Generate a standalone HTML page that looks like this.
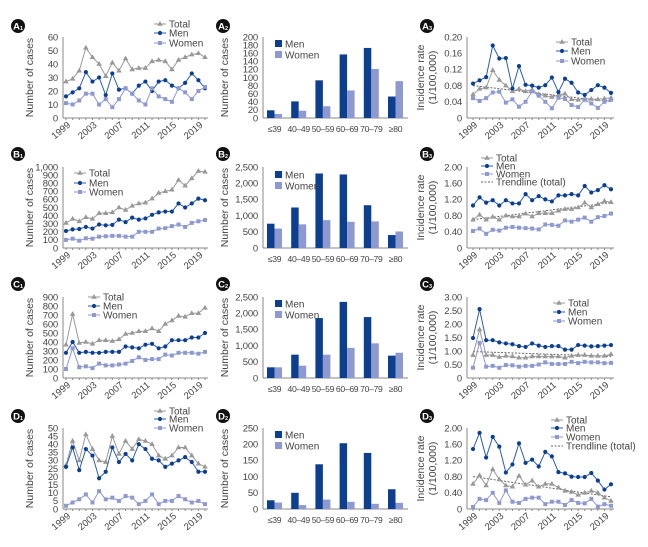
<!DOCTYPE html>
<html><head><meta charset="utf-8"><style>
body{margin:0;background:#fff;}
svg{display:block;font-family:"Liberation Sans",Arial,sans-serif;}
</style></head><body>
<svg id="fig" width="648" height="547" viewBox="0 0 648 547" xmlns="http://www.w3.org/2000/svg"></svg>
<script>
const years=[1999,2000,2001,2002,2003,2004,2005,2006,2007,2008,2009,2010,2011,2012,2013,2014,2015,2016,2017,2018,2019,2020];
const yearTicks=[1999,2003,2007,2011,2015,2019];
const ageGroups=["≤39","40–49","50–59","60–69","70–79","≥80"];
// A
const a1Total=[27,29,35,52,45,40,31,41,35,44,36,37,37,42,43,42,36,43,45,47,48,45];
const a1Men=[16,19,22,34,27,30,17,33,21,22,18,24,27,20,27,28,24,22,26,33,28,22];
const a1Women=[11,10,13,18,18,10,14,8,14,22,18,13,10,22,16,14,12,22,19,14,20,23];
const a2Men=[19,41,93,157,173,53];
const a2Women=[10,18,29,68,121,91];
const a3Total=[0.058,0.072,0.075,0.118,0.094,0.080,0.066,0.072,0.066,0.070,0.059,0.055,0.052,0.057,0.060,0.046,0.045,0.048,0.047,0.046,0.048,0.050];
const a3Men=[0.085,0.093,0.101,0.179,0.147,0.148,0.073,0.128,0.082,0.080,0.075,0.081,0.100,0.064,0.097,0.087,0.063,0.057,0.069,0.081,0.075,0.062];
const a3Women=[0.049,0.042,0.049,0.063,0.065,0.038,0.046,0.028,0.040,0.066,0.055,0.040,0.024,0.050,0.047,0.032,0.027,0.045,0.036,0.025,0.040,0.045];
const a3Trend=[0.080,0.040];
// B
const b1Total=[310,360,330,380,360,430,430,440,500,470,520,550,560,610,680,700,720,840,770,860,950,940];
const b1Men=[210,230,235,260,240,290,280,285,350,320,375,350,365,410,440,450,450,550,500,550,610,590];
const b1Women=[100,115,90,120,115,140,145,150,150,140,140,200,200,200,240,245,270,290,260,310,330,345];
const b2Men=[750,1250,2300,2270,1320,400];
const b2Women=[600,730,860,810,820,510];
const b3Total=[0.70,0.82,0.70,0.77,0.70,0.80,0.78,0.78,0.85,0.78,0.86,0.86,0.86,0.92,0.96,0.96,1.00,1.12,1.00,1.08,1.16,1.13];
const b3Men=[1.05,1.25,1.12,1.18,1.05,1.18,1.10,1.10,1.33,1.18,1.28,1.20,1.15,1.30,1.30,1.33,1.30,1.53,1.37,1.43,1.55,1.45];
const b3Women=[0.42,0.48,0.35,0.45,0.43,0.50,0.52,0.50,0.49,0.48,0.46,0.58,0.57,0.55,0.68,0.65,0.70,0.75,0.65,0.76,0.79,0.85];
const b3Trend=[0.70,1.12];
// C
const c1Total=[370,710,390,400,380,420,420,410,430,490,500,520,520,550,520,600,640,690,680,720,720,780];
const c1Men=[280,400,280,290,280,280,290,290,290,350,340,330,370,380,330,350,420,420,420,450,450,500];
const c1Women=[100,330,120,130,110,160,140,140,150,160,190,230,200,210,210,260,250,280,280,280,270,290];
const c2Men=[330,720,1850,2350,1880,690];
const c2Women=[330,380,720,930,1070,780];
const c3Total=[0.85,1.80,0.85,0.85,0.78,0.82,0.80,0.75,0.75,0.80,0.80,0.80,0.80,0.80,0.75,0.82,0.85,0.85,0.82,0.82,0.82,0.88];
const c3Men=[1.48,2.55,1.40,1.40,1.32,1.28,1.25,1.18,1.15,1.28,1.20,1.15,1.18,1.18,1.05,1.05,1.22,1.20,1.17,1.18,1.20,1.22];
const c3Women=[0.38,1.30,0.42,0.45,0.38,0.48,0.47,0.42,0.45,0.45,0.50,0.58,0.52,0.52,0.52,0.60,0.55,0.60,0.58,0.58,0.55,0.56];
const c3Trend=[0.98,0.80];
// D
const d1Total=[27,42,30,46,37,30,29,45,34,42,37,43,42,40,33,31,33,38,38,33,28,26];
const d1Men=[26,38,24,37,33,19,23,38,29,34,30,40,37,31,30,26,28,30,32,29,23,23];
const d1Women=[2,4,6,9,4,11,6,7,5,8,7,3,5,9,3,5,5,8,6,4,5,3];
const d2Men=[27,50,138,203,173,61];
const d2Women=[20,12,29,22,16,19];
const d3Total=[0.62,0.83,0.58,0.98,0.73,0.58,0.55,0.82,0.60,0.70,0.55,0.62,0.62,0.53,0.45,0.42,0.35,0.40,0.45,0.40,0.28,0.20];
const d3Men=[1.48,1.88,1.27,1.78,1.54,0.90,1.10,1.62,1.14,1.22,1.05,1.41,1.30,0.91,0.88,0.80,0.79,0.79,0.89,0.70,0.48,0.61];
const d3Women=[0.05,0.25,0.22,0.40,0.15,0.46,0.18,0.15,0.25,0.28,0.28,0.12,0.18,0.18,0.10,0.22,0.15,0.14,0.25,0.06,0.12,0.08];
const d3Trend=[0.80,0.30];

const yTicksA1=[0,10,20,30,40,50,60], yTicksB1=[0,100,200,300,400,500,600,700,800,900,1000], yTicksC1=[0,100,200,300,400,500,600,700,800,900], yTicksD1=[0,5,10,15,20,25,30,35,40,45,50];
const yTicksA2=[0,20,40,60,80,100,120,140,160,180,200], yTicksB2=[0,500,1000,1500,2000,2500], yTicksC2=yTicksB2, yTicksD2=[0,50,100,150,200,250];
const yTicksA3=[0,0.04,0.08,0.12,0.16,0.20], yTicksB3=[0,0.4,0.8,1.2,1.6,2.0], yTicksC3=[0,0.5,1,1.5,2,2.5,3], yTicksD3=yTicksB3;

const NS="http://www.w3.org/2000/svg";
const svg=document.getElementById('fig');
const MEN="#0d3f91", MENL="#2a5db0", WOM="#8e99cf", TOT="#999999", AX="#8a8a8a";
const TC="#444";
function el(tag,attrs,parent){const e=document.createElementNS(NS,tag);for(const k in attrs)e.setAttribute(k,attrs[k]);(parent||svg).appendChild(e);return e;}
function txt(s,attrs,parent){const t=el('text',attrs,parent);t.textContent=s;return t;}
function fmtInt(v){return v>=1000?(Math.floor(v/1000)+","+String(v%1000).padStart(3,"0")):String(v);}
function fmtDec(v,d){return v===0?"0":v.toFixed(d);}

const tops=[37,167,297,428], H=81;
function badge(x,y,label,sub){
  const g=el('g',{});
  
  
  el('circle',{cx:x,cy:y,r:7,fill:'#111'},g);
  txt(label,{x:x-1.5,y:y+3.5,'font-size':9.5,'font-weight':'bold',fill:'#fff','text-anchor':'middle'},g);
  txt(sub,{x:x+3.5,y:y+4,'font-size':5.5,'font-weight':'bold',fill:'#fff','text-anchor':'middle'},g);
}
function yAxis(g,ax,top,ticks,fmt,title,title2,tx){
  const max=ticks[ticks.length-1];
  el('line',{x1:ax,y1:top,x2:ax,y2:top+H,stroke:AX,'stroke-width':1},g);
  ticks.forEach(t=>{const y=top+H-t/max*H;
    const lb=txt(fmt(t),{x:ax-5,y:y+3.3,'font-size':9.5,fill:TC,'text-anchor':'end','letter-spacing':-0.2},g);
    
    
  });
  const cy=top+H/2;
  const t1=txt(title,{x:tx,y:cy,'font-size':10.5,fill:TC,'text-anchor':'middle',transform:`rotate(-90 ${tx} ${cy})`},g);
  
  
  if(title2){
    const t2=txt(title2,{x:tx+12,y:cy,'font-size':10.5,fill:TC,'text-anchor':'middle',transform:`rotate(-90 ${tx+12} ${cy})`},g);
    
    
  }
}
function marker(g,kind,x,y){
  if(kind==='t') el('path',{d:`M${x},${y-3}L${x+2.8},${y+1.8}L${x-2.8},${y+1.8}Z`,fill:TOT},g);
  else if(kind==='c') el('circle',{cx:x,cy:y,r:2.1,fill:MEN},g);
  else el('rect',{x:x-2,y:y-2,width:4,height:4,fill:WOM},g);
}
function linePanel(name,ax,x0,x1,top,ticks,fmt,series,trend,title,title2,tx,legend){
  const g=el('g',{});
  
  
  const max=ticks[ticks.length-1];
  const xs=i=>x0+(x1-x0)*i/(years.length-1);
  const ys=v=>top+H-v/max*H;
  yAxis(g,ax,top,ticks,fmt,title,title2,tx);
  const bottom=top+H;
  el('line',{x1:ax,y1:bottom,x2:x1+3,y2:bottom,stroke:AX,'stroke-width':1},g);
  years.forEach((yr,i)=>{el('line',{x1:xs(i),y1:bottom,x2:xs(i),y2:bottom+2,stroke:AX},g);});
  yearTicks.forEach(yr=>{const i=years.indexOf(yr);const x=xs(i)+5,y=bottom+8;
    const t=txt(String(yr),{x:x,y:y,'font-size':9.5,fill:TC,'text-anchor':'end',transform:`rotate(-40 ${x} ${y})`},g);
    
    
  });
  if(trend){
    const tl=el('line',{x1:xs(0),y1:ys(trend[0]),x2:xs(years.length-1),y2:ys(trend[1]),stroke:'#666','stroke-width':1,'stroke-dasharray':'2,1.5'},g);
    
    
  }
  series.forEach(s=>{
    const sg=el('g',{},g);
    
    
    el('polyline',{points:s.data.map((v,i)=>xs(i)+','+ys(v)).join(' '),fill:'none',stroke:s.color,'stroke-width':1},sg);
    s.data.forEach((v,i)=>marker(sg,s.kind,xs(i),ys(v)));
  });
  const lg=el('g',{},g);
  
  
  legend.items.forEach((it,k)=>{
    const y=legend.ys[k];
    const eg=el('g',{},lg);
    
    
    if(it.kind==='d'){el('line',{x1:legend.x,y1:y,x2:legend.x+12,y2:y,stroke:'#666','stroke-dasharray':'2,1.5'},eg);}
    else {el('line',{x1:legend.x,y1:y,x2:legend.x+12,y2:y,stroke:it.color},eg);marker(eg,it.kind,legend.x+6,y);}
    txt(it.label,{x:legend.x+15,y:y+3.5,'font-size':10,fill:TC},eg);
  });
}
function barPanel(name,ax,top,ticks,fmt,men,women,leg){
  const g=el('g',{});
  
  
  const max=ticks[ticks.length-1];
  const ys=v=>top+H-v/max*H;
  yAxis(g,ax,top,ticks,fmt,'Number of cases',null,228);
  const bottom=top+H;
  el('line',{x1:ax,y1:bottom,x2:408,y2:bottom,stroke:AX},g);
  const cx=i=>274.5+i*24.2;
  ageGroups.forEach((a,i)=>{
    const bm=el('rect',{x:cx(i)-7.5,y:ys(men[i]),width:7.5,height:bottom-ys(men[i]),fill:MEN},g);
    
    
    const bw=el('rect',{x:cx(i),y:ys(women[i]),width:7.5,height:bottom-ys(women[i]),fill:WOM},g);
    
    
    const t=txt(a,{x:cx(i),y:bottom+14,'font-size':8.6,fill:TC,'text-anchor':'middle','letter-spacing':-0.3},g);
    
    
  });
  const lg=el('g',{},g);
  
  
  [['Men',MEN],['Women',WOM]].forEach((p,k)=>{
    const y=leg[k];
    const eg=el('g',{},lg);
    
    
    el('rect',{x:275,y:y-4,width:7,height:7,fill:p[1]},eg);
    txt(p[0],{x:285,y:y+3.5,'font-size':10,fill:TC},eg);
  });
}
const TI={name:'total',label:'Total',kind:'t',color:TOT}, MI={name:'men',label:'Men',kind:'c',color:MENL}, WI={name:'women',label:'Women',kind:'s',color:WOM}, DI={name:'trendline',label:'Trendline (total)',kind:'d'};
function S(name,data){const m={total:['t',TOT],men:['c',MENL],women:['s',WOM]}[name];return {name:name,data:data,kind:m[0],color:m[1]};}
const I=v=>fmtInt(v);
const rows=[
 {id:'A',l1:[a1Total,a1Men,a1Women],t1:yTicksA1,leg1:{x:154,ys:[24,33,43],items:[TI,MI,WI]},
  b:[a2Men,a2Women],t2:yTicksA2,leg2:[44,55],
  l3:[a3Total,a3Men,a3Women],tr:a3Trend,t3:yTicksA3,d3:2,leg3:{x:556,ys:[42,51,61],items:[TI,MI,WI]}},
 {id:'B',l1:[b1Total,b1Men,b1Women],t1:yTicksB1,leg1:{x:74,ys:[173,183,192],items:[TI,MI,WI]},
  b:[b2Men,b2Women],t2:yTicksB2,leg2:[175,186],
  l3:[b3Total,b3Men,b3Women],tr:b3Trend,t3:yTicksB3,d3:2,leg3:{x:481,ys:[158,166,174,182],items:[TI,MI,WI,DI]}},
 {id:'C',l1:[c1Total,c1Men,c1Women],t1:yTicksC1,leg1:{x:88,ys:[297,306,315],items:[TI,MI,WI]},
  b:[c2Men,c2Women],t2:yTicksC2,leg2:[304,315],
  l3:[c3Total,c3Men,c3Women],tr:c3Trend,t3:yTicksC3,d3:2,leg3:{x:553,ys:[303,312,321],items:[TI,MI,WI]}},
 {id:'D',l1:[d1Total,d1Men,d1Women],t1:yTicksD1,leg1:{x:154,ys:[411,419,428],items:[TI,MI,WI]},
  b:[d2Men,d2Women],t2:yTicksD2,leg2:[435,446],
  l3:[d3Total,d3Men,d3Women],tr:d3Trend,t3:yTicksD3,d3:2,leg3:{x:551,ys:[420,428,437,446],items:[TI,MI,WI,DI]}}
];
const badgeY=[26,154,284,416];
rows.forEach((r,ri)=>{
  const top=tops[ri];
  badge(18,badgeY[ri],r.id,'1');badge(223,badgeY[ri],r.id,'2');badge(427,badgeY[ri],r.id,'3');
  linePanel('panel-'+r.id+'1-cases',63,66,205,top,r.t1,I,[S('total',r.l1[0]),S('men',r.l1[1]),S('women',r.l1[2])],null,'Number of cases',null,33,r.leg1);
  barPanel('panel-'+r.id+'2-age',263,top,r.t2,I,r.b[0],r.b[1],r.leg2);
  linePanel('panel-'+r.id+'3-incidence',467,473,611,top,r.t3,v=>fmtDec(v,r.d3),[S('total',r.l3[0]),S('men',r.l3[1]),S('women',r.l3[2])],r.tr,'Incidence rate','(1/100,000)',424,r.leg3);
});
</script>
</body></html>
